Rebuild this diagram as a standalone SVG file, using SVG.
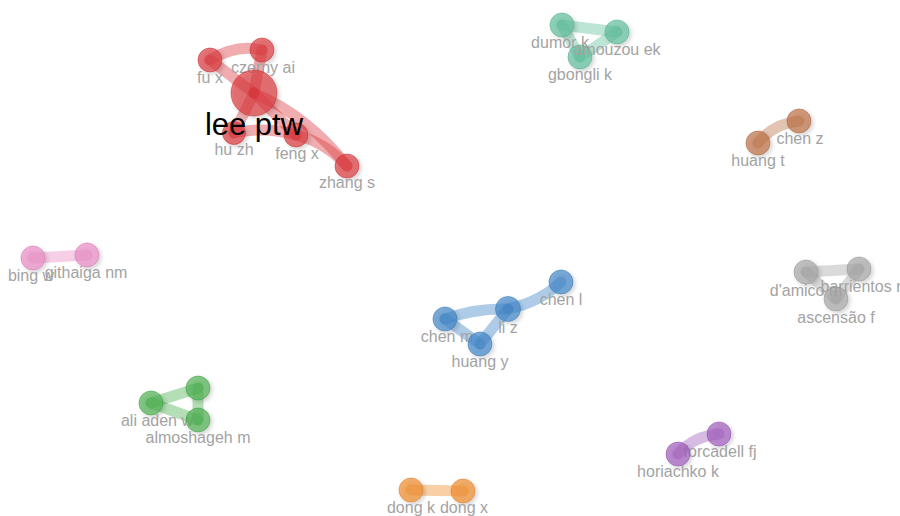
<svg xmlns="http://www.w3.org/2000/svg" width="900" height="516" viewBox="0 0 900 516">
<defs>
<filter id="sh" x="-50%" y="-50%" width="200%" height="200%">
<feGaussianBlur in="SourceAlpha" stdDeviation="2"/>
<feOffset dx="2" dy="2" result="b"/>
<feComponentTransfer><feFuncA type="linear" slope="0.25"/></feComponentTransfer>
<feMerge><feMergeNode/><feMergeNode in="SourceGraphic"/></feMerge>
</filter>
</defs>
<style>
.e{fill:none;stroke-width:11;stroke-linecap:round;stroke-opacity:0.42}
.n{fill-opacity:0.68;stroke-opacity:0.5;stroke-width:1;filter:url(#sh)}
.l{font-family:"Liberation Sans",Arial,sans-serif;font-size:16px;fill:#a3a3a3;text-anchor:middle}
.big{font-family:"Liberation Sans",Arial,sans-serif;font-size:31px;fill:#000;text-anchor:middle}
.red{fill:#dc3a3e;stroke:#c12a2e}
.teal{fill:#5fc09c;stroke:#4aa886}
.brown{fill:#bd7046;stroke:#a55e38}
.pink{fill:#ea8cc6;stroke:#d26fae}
.blue{fill:#3f86c9;stroke:#2f72b0}
.gray{fill:#a6a6a6;stroke:#909090}
.green{fill:#4cb050;stroke:#3a9a3e}
.purple{fill:#a05cbd;stroke:#8a49a6}
.orange{fill:#f08c2a;stroke:#d87820}
</style>
<rect width="900" height="516" fill="#fff"/>
<g id="connectors">
<g stroke="#dc3a3e">
<path class="e" d="M210,60 Q236,44 262,50"/>
<path class="e" d="M210,60 L254,93"/>
<path class="e" d="M262,50 Q258,72 254,93"/>
<path class="e" d="M254,93 L234,133"/>
<path class="e" d="M254,93 L296,135"/>
<path class="e" d="M234,133 Q265,126 296,135"/>
<path class="e" d="M254,93 Q308,116 347,166"/>
<path class="e" d="M296,135 Q325,142 347,166"/>
</g>
<g stroke="#5fc09c">
<path class="e" d="M562,25 L617,32"/>
<path class="e" d="M562,25 L580,57"/>
<path class="e" d="M617,32 L580,57"/>
</g>
<path class="e" stroke="#bd7046" d="M758,143 Q773,124 799,121"/>
<path class="e" stroke="#ea8cc6" d="M33,258 L87,255"/>
<g stroke="#3f86c9">
<path class="e" d="M561,282 Q540,302 508,309"/>
<path class="e" d="M508,309 Q475,308 445,319"/>
<path class="e" d="M508,309 L480,344"/>
<path class="e" d="M445,319 L480,344"/>
</g>
<g stroke="#a6a6a6">
<path class="e" d="M806,272 L859,269"/>
<path class="e" d="M806,272 L836,299"/>
<path class="e" d="M859,269 L836,299"/>
</g>
<g stroke="#4cb050">
<path class="e" d="M151,403 L198,388"/>
<path class="e" d="M151,403 L198,420"/>
<path class="e" d="M198,388 L198,420"/>
</g>
<path class="e" stroke="#a05cbd" d="M678,454 Q694,436 719,434"/>
<path class="e" stroke="#f08c2a" d="M411,490 L463,491"/>
</g>
<g id="n-fu-x"><circle class="n red" cx="210" cy="60" r="12"/><text class="l" x="210" y="83">fu x</text></g>
<g id="n-czerny-ai"><circle class="n red" cx="262" cy="50" r="12"/><text class="l" x="263" y="73">czerny ai</text></g>
<g id="n-hu-zh"><circle class="n red" cx="234" cy="133" r="11.5"/><text class="l" x="234" y="155">hu zh</text></g>
<g id="n-feng-x"><circle class="n red" cx="296" cy="135" r="12"/><text class="l" x="297" y="159">feng x</text></g>
<g id="n-zhang-s"><circle class="n red" cx="347" cy="166" r="12"/><text class="l" x="347" y="188">zhang s</text></g>
<g id="n-lee-ptw"><circle class="n red" cx="254" cy="93" r="23"/><text class="big" x="254" y="135">lee ptw</text></g>
<g id="n-dumor-k"><circle class="n teal" cx="562" cy="25" r="12"/><text class="l" x="560" y="48">dumor k</text></g>
<g id="n-gbongli-k"><circle class="n teal" cx="580" cy="57" r="12"/><text class="l" x="580" y="80">gbongli k</text></g>
<g id="n-amouzou-ek"><circle class="n teal" cx="617" cy="32" r="12"/><text class="l" x="617" y="55">amouzou ek</text></g>
<g id="n-chen-z"><circle class="n brown" cx="799" cy="121" r="12"/><text class="l" x="800" y="144">chen z</text></g>
<g id="n-huang-t"><circle class="n brown" cx="758" cy="143" r="12"/><text class="l" x="758" y="166">huang t</text></g>
<g id="n-bing-w"><circle class="n pink" cx="33" cy="258" r="12"/><text class="l" x="31" y="281">bing w</text></g>
<g id="n-githaiga-nm"><circle class="n pink" cx="87" cy="255" r="12"/><text class="l" x="86" y="278">githaiga nm</text></g>
<g id="n-chen-l"><circle class="n blue" cx="561" cy="282" r="12"/><text class="l" x="561" y="305">chen l</text></g>
<g id="n-chen-m"><circle class="n blue" cx="445" cy="319" r="12"/><text class="l" x="447" y="342">chen m</text></g>
<g id="n-huang-y"><circle class="n blue" cx="480" cy="344" r="12"/><text class="l" x="480" y="367">huang y</text></g>
<g id="n-li-z"><circle class="n blue" cx="508" cy="309" r="12.5"/><text class="l" x="508" y="333">li z</text></g>
<g id="n-d-amico-m"><circle class="n gray" cx="806" cy="272" r="12"/><text class="l" x="806" y="296">d'amico m</text></g>
<g id="n-barrientos-r"><circle class="n gray" cx="859" cy="269" r="12"/><text class="l" x="861" y="292">barrientos r</text></g>
<g id="n-ascensao-f"><circle class="n gray" cx="836" cy="299" r="12"/><text class="l" x="836" y="323">ascensão f</text></g>
<g id="n-ali-aden-w"><circle class="n green" cx="151" cy="403" r="12"/><text class="l" x="157" y="426">ali aden w</text></g>
<g id="n-green-top"><circle class="n green" cx="198" cy="388" r="12"/></g>
<g id="n-almoshageh-m"><circle class="n green" cx="198" cy="420" r="12"/><text class="l" x="198" y="443">almoshageh m</text></g>
<g id="n-forcadell-fj"><circle class="n purple" cx="719" cy="434" r="12"/><text class="l" x="720" y="457">forcadell fj</text></g>
<g id="n-horiachko-k"><circle class="n purple" cx="678" cy="454" r="12"/><text class="l" x="678" y="477">horiachko k</text></g>
<g id="n-dong-k"><circle class="n orange" cx="411" cy="490" r="12"/><text class="l" x="411" y="513">dong k</text></g>
<g id="n-dong-x"><circle class="n orange" cx="463" cy="491" r="12"/><text class="l" x="464" y="513">dong x</text></g>
</svg>
